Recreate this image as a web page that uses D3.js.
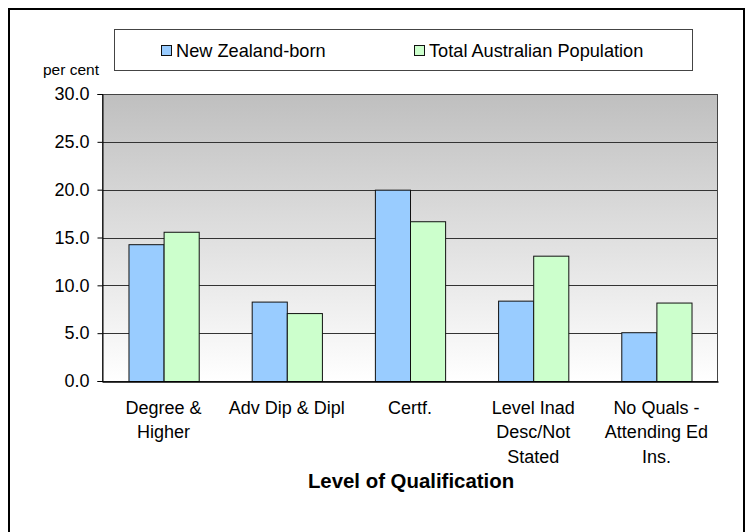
<!DOCTYPE html>
<html>
<head>
<meta charset="utf-8">
<script src="https://cdn.jsdelivr.net/npm/d3@7"></script>
<style>
  html, body { margin: 0; padding: 0; background: #ffffff; }
  svg { display: block; font-family: "Liberation Sans", Arial, sans-serif; }
</style>
</head>
<body>
<svg id="chart" width="753" height="532"></svg>
<script>
// ---- data ----
const categories = [
  ["Degree &", "Higher"],
  ["Adv Dip & Dipl"],
  ["Certf."],
  ["Level Inad", "Desc/Not", "Stated"],
  ["No Quals -", "Attending Ed", "Ins."]
];
const seriesNames = ["New Zealand-born", "Total Australian Population"];
const nzBorn = [14.3, 8.3, 20.0, 8.4, 5.1];
const totalAus = [15.6, 7.1, 16.7, 13.1, 8.2];
const yTicks = [0, 5, 10, 15, 20, 25, 30];
const seriesColors = ["#99CCFF", "#CCFFCC"];
const xTitle = "Level of Qualification";
const yUnit = "per cent";

// ---- layout ----
const svg = d3.select("#chart");
const plot = { left: 102, right: 718, top: 94, bottom: 381 };

const catKeys = categories.map((c, i) => "c" + i);
const x0 = d3.scaleBand().domain(catKeys).range([plot.left, plot.right])
  .paddingInner(0.43).paddingOuter(0.215);
const x1 = d3.scaleBand().domain([0, 1]).range([0, x0.bandwidth()]).padding(0);
const y = d3.scaleLinear().domain([0, 30]).range([plot.bottom, plot.top]);

// outer frame
svg.append("rect").attr("x", 9).attr("y", 9).attr("width", 735).attr("height", 530)
  .attr("fill", "#ffffff").attr("stroke", "#000").attr("stroke-width", 2);

// gradient background
const defs = svg.append("defs");
const grad = defs.append("linearGradient").attr("id", "bg")
  .attr("x1", 0).attr("y1", 0).attr("x2", 0).attr("y2", 1);
grad.append("stop").attr("offset", "0%").attr("stop-color", "#bfbfbf");
grad.append("stop").attr("offset", "35%").attr("stop-color", "#d6d6d6");
grad.append("stop").attr("offset", "100%").attr("stop-color", "#ffffff");

svg.append("rect").attr("x", plot.left).attr("y", plot.top)
  .attr("width", plot.right - plot.left).attr("height", plot.bottom - plot.top)
  .attr("fill", "url(#bg)");

// gridlines
svg.append("g").selectAll("line").data(yTicks.filter(t => t > 0 && t < 30)).join("line")
  .attr("x1", plot.left).attr("x2", plot.right)
  .attr("y1", d => Math.round(y(d)) + 0.5).attr("y2", d => Math.round(y(d)) + 0.5)
  .attr("stroke", "#333").attr("stroke-width", 1);

// plot border
svg.append("rect").attr("x", plot.left + 0.5).attr("y", plot.top + 0.5)
  .attr("width", plot.right - plot.left - 1).attr("height", plot.bottom - plot.top)
  .attr("fill", "none").attr("stroke", "#444").attr("stroke-width", 1);

// bars
const groups = svg.append("g").selectAll("g").data(catKeys).join("g")
  .attr("transform", d => `translate(${x0(d)},0)`);
groups.selectAll("rect").data((d, i) => [nzBorn[i], totalAus[i]]).join("rect")
  .attr("x", (d, j) => x1(j) + 0.5)
  .attr("y", d => y(d) + 0.5)
  .attr("width", x1.bandwidth())
  .attr("height", d => y(0) - y(d))
  .attr("fill", (d, j) => seriesColors[j])
  .attr("stroke", "#111").attr("stroke-width", 1);

// y axis
const yAxis = d3.axisLeft(y).tickValues(yTicks).tickFormat(d3.format(".1f"))
  .tickSize(5).tickPadding(8);
const gy = svg.append("g").attr("transform", `translate(${plot.left + 0.5},0)`).call(yAxis);
gy.select(".domain").attr("stroke", "#000");
gy.selectAll(".tick line").attr("stroke", "#000");
gy.selectAll(".tick text").attr("font-size", 18).attr("fill", "#000")
  .attr("font-family", "'Liberation Sans', Arial, sans-serif");

// x axis baseline
const xAxis = d3.axisBottom(x0).tickSize(0).tickFormat("");
const gx = svg.append("g").attr("transform", `translate(0,${plot.bottom + 0.5})`).call(xAxis);
gx.select(".domain").attr("stroke", "#000").attr("stroke-width", 1.5);

// category labels (multi-line)
const labelG = svg.append("g").attr("font-size", 18).attr("fill", "#000")
  .attr("text-anchor", "middle");
categories.forEach((lines, i) => {
  const cx = x0(catKeys[i]) + x0.bandwidth() / 2;
  const t = labelG.append("text").attr("x", cx).attr("y", 414);
  lines.forEach((ln, k) => {
    t.append("tspan").attr("x", cx).attr("y", 414 + k * 24.3).text(ln);
  });
});

// x title
svg.append("text").attr("x", (plot.left + plot.right) / 2 + 1).attr("y", 487.5)
  .attr("text-anchor", "middle").attr("font-size", 20.4).attr("font-weight", "bold")
  .attr("fill", "#000").text(xTitle);

// y unit
svg.append("text").attr("x", 71).attr("y", 75).attr("text-anchor", "middle")
  .attr("font-size", 15.5).attr("fill", "#000").text(yUnit);

// legend
svg.append("rect").attr("x", 114.5).attr("y", 29.5).attr("width", 578).attr("height", 41)
  .attr("fill", "#fff").attr("stroke", "#444").attr("stroke-width", 1);
const legendX = [161, 414];
seriesNames.forEach((name, i) => {
  svg.append("rect").attr("x", legendX[i] + 0.5).attr("y", 45.5).attr("width", 10).attr("height", 10)
    .attr("fill", seriesColors[i]).attr("stroke", "#111");
  svg.append("text").attr("x", legendX[i] + 15).attr("y", 56.5)
    .attr("font-size", 18.2).attr("fill", "#000").text(name);
});
</script>
</body>
</html>
